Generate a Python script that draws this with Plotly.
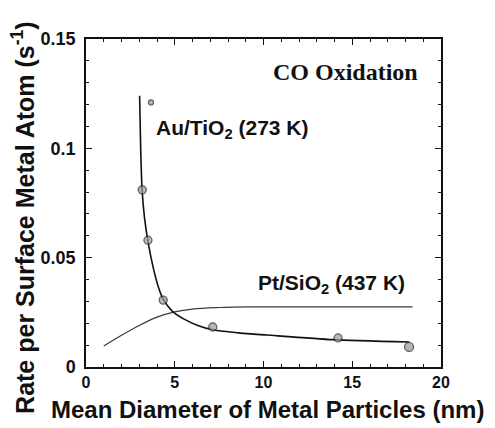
import plotly.graph_objects as go

# Measured data points (Au/TiO2)
au_x = [3.66, 3.17, 3.49, 4.35, 7.14, 14.2, 18.2]
au_y = [0.121, 0.081, 0.058, 0.0306, 0.0183, 0.0133, 0.0092]

# Fitted curve for Au/TiO2
au_fit_x = [3.02, 3.08, 3.16, 3.3, 3.5, 3.8, 4.1, 4.35, 4.84, 5.5, 6.3, 7.15, 8.7, 10.2, 13.9, 18.2]
au_fit_y = [0.124, 0.100, 0.081, 0.068, 0.057, 0.045, 0.036, 0.031, 0.0257, 0.022, 0.019, 0.017, 0.0155, 0.0146, 0.0125, 0.0114]

# Curve for Pt/SiO2
pt_x = [1.0, 2.0, 3.0, 4.0, 5.0, 6.0, 7.5, 9.2, 18.4]
pt_y = [0.0096, 0.0145, 0.019, 0.0228, 0.0252, 0.0265, 0.0272, 0.0275, 0.0275]

xticks = [0, 5, 10, 15, 20]
yticks = [0, 0.05, 0.1, 0.15]
yticklabels = ["0", "0.05", "0.1", "0.15"]

fig = go.Figure()
fig.add_trace(go.Scatter(x=pt_x, y=pt_y, mode="lines",
                         line=dict(color="#3a3a3a", width=1.2, shape="spline", smoothing=1.0),
                         hoverinfo="skip"))
fig.add_trace(go.Scatter(x=au_fit_x, y=au_fit_y, mode="lines",
                         line=dict(color="#111", width=1.6, shape="spline", smoothing=0.6),
                         hoverinfo="skip"))
fig.add_trace(go.Scatter(x=au_x, y=au_y, mode="markers",
                         marker=dict(size=[5, 8, 8, 8, 8, 8, 9], color="#999",
                                     line=dict(color="#222", width=1.3)),
                         hoverinfo="skip"))

font_sans = "Liberation Sans, Arial, sans-serif"

fig.update_layout(
    width=487, height=420,
    margin=dict(l=78, r=54, t=31, b=61),
    paper_bgcolor="white", plot_bgcolor="white",
    showlegend=False,
    font=dict(family=font_sans, color="#111"),
    xaxis=dict(range=[0, 20], tickvals=xticks, ticktext=["<b>%d</b>" % v for v in xticks],
               ticks="inside", ticklen=6, tickwidth=1, tickcolor="#111",
               minor=dict(dtick=1, ticks="inside", ticklen=3, tickcolor="#111"),
               showline=True, linecolor="#111", linewidth=1.5, mirror="ticks",
               showgrid=False, zeroline=False, automargin=False,
               tickfont=dict(size=16, family=font_sans)),
    yaxis=dict(range=[0, 0.15], tickvals=yticks, ticktext=["<b>%s</b>" % t for t in yticklabels],
               ticks="inside", ticklen=6, tickwidth=1, tickcolor="#111",
               minor=dict(dtick=0.01, ticks="inside", ticklen=3, tickcolor="#111"),
               showline=True, linecolor="#111", linewidth=1.5, mirror="ticks",
               showgrid=False, zeroline=False, automargin=False,
               ticklabelstandoff=5,
               tickfont=dict(size=18, family=font_sans)),
    annotations=[
        dict(x=0.51, y=-0.131, xref="paper", yref="paper", xanchor="center", yanchor="middle",
             text="<b>Mean Diameter of Metal Particles (nm)</b>", showarrow=False,
             font=dict(size=24, family=font_sans)),
        dict(x=-0.177, y=0.455, xref="paper", yref="paper", xanchor="center", yanchor="middle",
             textangle=-90,
             text="<b>Rate per Surface Metal Atom (s<sup>-1</sup>)</b>", showarrow=False,
             font=dict(size=25, family=font_sans)),
        dict(x=18.8, y=0.135, xref="x", yref="y", xanchor="right", yanchor="middle",
             text="<b>CO Oxidation</b>", showarrow=False,
             font=dict(size=24, family="Liberation Serif, Times New Roman, serif")),
        dict(x=3.85, y=0.109, xref="x", yref="y", xanchor="left", yanchor="middle",
             text="<b>Au/TiO<sub>2</sub> (273 K)</b>", showarrow=False,
             font=dict(size=21, family=font_sans)),
        dict(x=9.6, y=0.038, xref="x", yref="y", xanchor="left", yanchor="middle",
             text="<b>Pt/SiO<sub>2</sub> (437 K)</b>", showarrow=False,
             font=dict(size=21, family=font_sans)),
    ],
)

fig.write_html("out.html")
